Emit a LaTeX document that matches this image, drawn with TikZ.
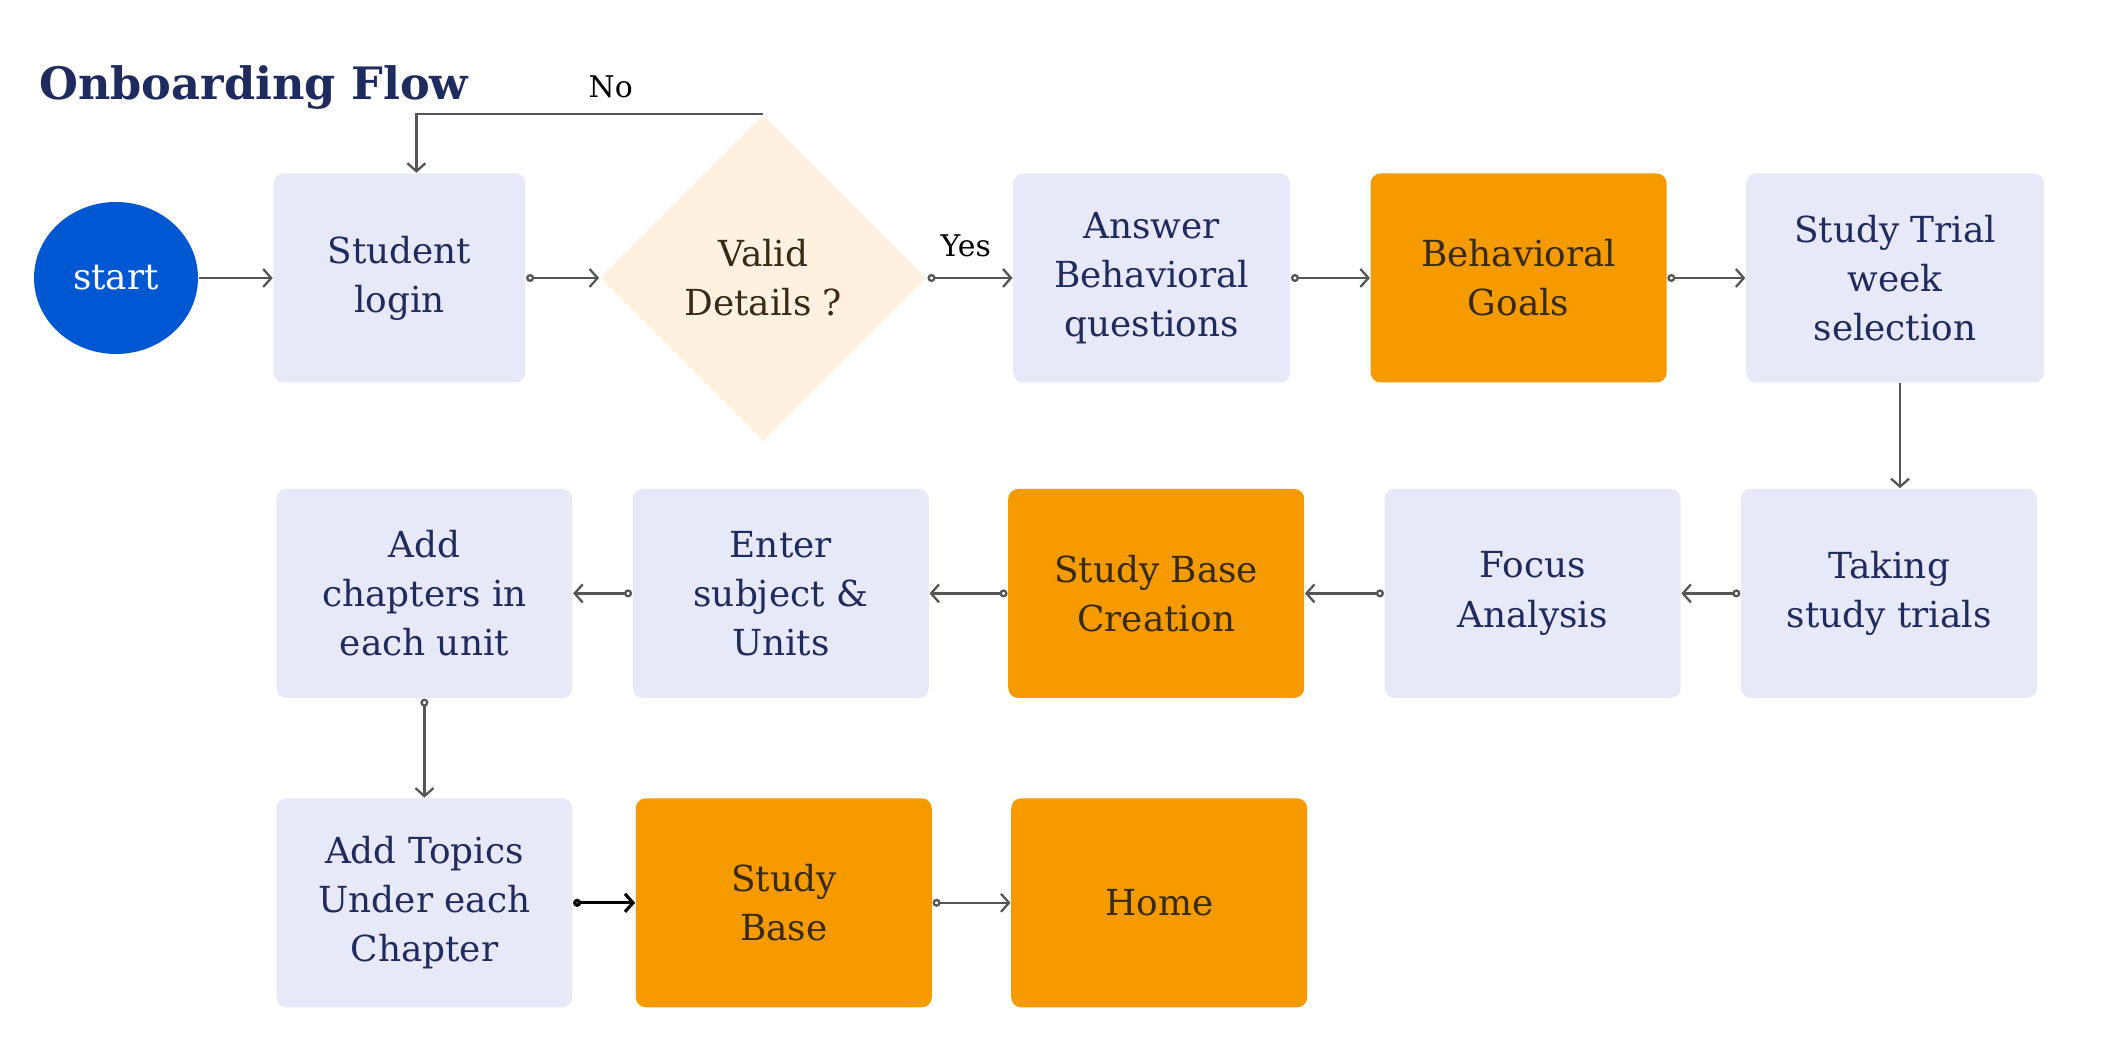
\documentclass[tikz,border=0pt]{standalone}
\usepackage{fontspec}
\setmainfont{DejaVu Serif}
\usetikzlibrary{arrows.meta,positioning,calc,shapes.geometric}
\definecolor{softlavender}{RGB}{231,232,248}
\definecolor{deeporange}{RGB}{245,155,0}
\definecolor{softpeach}{RGB}{255,241,225}
\definecolor{startblue}{RGB}{0,87,210}
\definecolor{navytext}{RGB}{30,43,94}
\definecolor{browntext}{RGB}{58,42,18}
\definecolor{linegray}{RGB}{85,85,85}

\begin{document}
\begin{tikzpicture}[node distance=7.8mm, every node/.style={font=\fontsize{10.2}{14}\selectfont,align=center},
  lavbox/.style={rounded corners=1mm,fill=softlavender,text=navytext,minimum width=2.96cm,minimum height=2.09cm,inner sep=0pt},
  orangebox/.style={lavbox,fill=deeporange,text=browntext},
  flowline/.style={draw=linegray,line width=0.65pt,{Circle[open,length=0.8mm,width=0.8mm]}-{Straight Barb[length=0.8mm,width=1.8mm]}},
  plainline/.style={draw=linegray,line width=0.65pt,-{Straight Barb[length=0.8mm,width=1.8mm]}},
  edgelabel/.style={font=\fontsize{8.5}{10}\selectfont,text=black}]
\useasboundingbox (0,0) rectangle (21.2,-10.52);
\node[anchor=west,font=\fontsize{12.7}{16}\selectfont\bfseries,text=navytext] (title) at (0.27,-0.88) {Onboarding Flow};
% first row
\node[ellipse,fill=startblue,text=white,minimum width=1.64cm,minimum height=1.52cm,inner sep=0pt] (start) at (1.16,-2.78) {start};
\node[lavbox,minimum width=2.52cm,right=7.4mm of start] (login) {Student\\login};
\node[diamond,aspect=1,fill=softpeach,text=browntext,minimum width=3.27cm,minimum height=3.27cm,inner sep=0pt,right=7.3mm of login] (valid) {Valid\\Details ?};
\node[lavbox,minimum width=2.77cm,right=8.5mm of valid] (answer) {Answer\\Behavioral\\questions};
\node[orangebox,right=7.9mm of answer] (goals) {Behavioral\\Goals};
\node[lavbox,minimum width=2.98cm,right=of goals] (trial) {Study Trial\\week\\selection};
% second row
\node[lavbox,below=1.05cm of trial,xshift=-0.6mm] (taking) {Taking\\study trials};
\node[lavbox,left=5.9mm of taking] (focus) {Focus\\Analysis};
\node[orangebox,left=7.9mm of focus] (creation) {Study Base\\Creation};
\node[lavbox,left=7.8mm of creation] (enter) {Enter\\subject \&\\Units};
\node[lavbox,left=5.9mm of enter] (chapters) {Add\\chapters in\\each unit};
% third row
\node[lavbox,below=0.99cm of chapters] (topics) {Add Topics\\Under each\\Chapter};
\node[orangebox,right=6.2mm of topics] (base) {Study\\Base};
\node[orangebox,right=of base] (home) {Home};
% connectors
\coordinate (trialout) at ($(trial.south)+(0.05,0)$);
\draw[plainline] (start) -- (login);
\draw[flowline] (login) -- (valid);
\draw[plainline] (valid.north) -| node[edgelabel,above,pos=0.22,yshift=0.3mm] {No} ($(login.north)+(0.17,0)$);
\draw[flowline] (valid.east) -- node[edgelabel,above,pos=0.45,yshift=0.8mm] {Yes} (answer);
\draw[flowline] (answer) -- (goals);
\draw[flowline] (goals) -- (trial);
\draw[plainline] (trialout) -- (trialout |- taking.north);
\draw[flowline] (taking) -- (focus);
\draw[flowline] (focus) -- (creation);
\draw[flowline] (creation) -- (enter);
\draw[flowline] (enter) -- (chapters);
\draw[flowline] (chapters) -- (topics);
\draw[flowline,draw=black,line width=0.9pt] (topics) -- (base);
\draw[flowline] (base) -- (home);
\end{tikzpicture}
\end{document}
